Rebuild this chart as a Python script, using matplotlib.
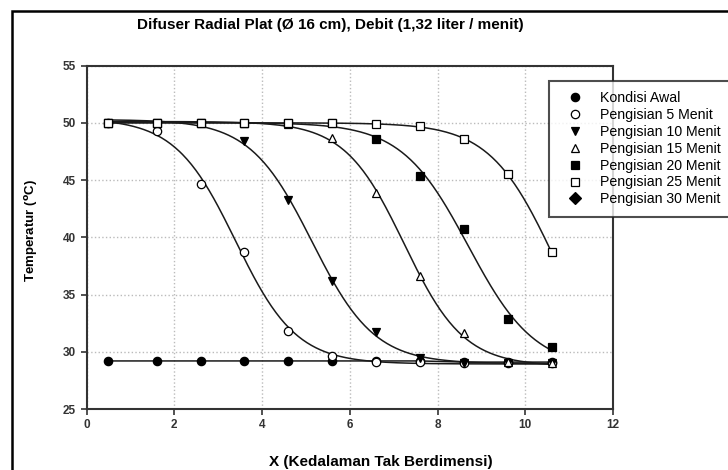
import numpy as np
import matplotlib.pyplot as plt
from matplotlib.patches import Rectangle

plt.rcParams['font.family'] = ['Liberation Sans', 'DejaVu Sans']

x = [0.5, 1.6, 2.6, 3.6, 4.6, 5.6, 6.6, 7.6, 8.6, 9.6, 10.6]

awal = [29.2, 29.2, 29.2, 29.2, 29.2, 29.2, 29.2, 29.2, 29.1, 29.1, 29.1]
menit_5 = [50.0, 49.3, 44.7, 38.7, 31.8, 29.6, 29.1, 29.1, 29.0, 29.0, 29.0]
menit_10 = [50.0, 50.0, 50.0, 48.4, 43.3, 36.2, 31.7, 29.5, 29.0, 29.0, 29.0]
menit_15 = [50.0, 50.0, 50.0, 50.0, 49.9, 48.7, 43.9, 36.6, 31.6, 29.1, 29.0]
menit_20 = [50.0, 50.0, 50.0, 50.0, 50.0, 50.0, 48.6, 45.4, 40.7, 32.9, 30.4]
menit_25 = [50.0, 50.0, 50.0, 50.0, 50.0, 50.0, 49.9, 49.7, 48.6, 45.5, 38.7]
menit_30 = []

labels = ['Kondisi Awal', 'Pengisian 5 Menit', 'Pengisian 10 Menit',
          'Pengisian 15 Menit', 'Pengisian 20 Menit', 'Pengisian 25 Menit',
          'Pengisian 30 Menit']


def sigmoid_fit(xp, yp, xs):
    # least squares sigmoid (trend line), grid over centre/width,
    # top and bottom solved linearly
    xp = np.asarray(xp, float)
    yp = np.asarray(yp, float)
    x0 = np.arange(0.0, 14.0, 0.01)
    w = np.arange(0.15, 2.5, 0.01)
    X0, W = np.meshgrid(x0, w)
    X0 = X0.ravel()[:, None]
    W = W.ravel()[:, None]
    f = 1.0 / (1.0 + np.exp((xp[None, :] - X0) / W))
    n = len(xp)
    sf = f.sum(1)
    sff = (f * f).sum(1)
    sy = yp.sum()
    sfy = (f * yp[None, :]).sum(1)
    det = n * sff - sf * sf
    det[np.abs(det) < 1e-9] = 1e-9
    a = (sff * sy - sf * sfy) / det
    b = (n * sfy - sf * sy) / det
    res = ((a[:, None] + b[:, None] * f - yp[None, :]) ** 2).sum(1)
    i = np.argmin(res)
    return a[i] + b[i] / (1.0 + np.exp((xs - X0[i, 0]) / W[i, 0]))


fig = plt.figure(figsize=(7.28, 4.70), dpi=100)
ax = fig.add_axes([86.5 / 728, 1 - 409 / 470, (613 - 86.5) / 728, (409 - 65.7) / 470])

series = [awal, menit_5, menit_10, menit_15, menit_20, menit_25, menit_30]
markers = ['o', 'o', 'v', '^', 's', 's', 'D']
faces = ['black', 'white', 'black', 'white', 'black', 'white', 'black']

xs = np.linspace(x[0], x[-1], 300)
for vals, mk, fc, lab in zip(series, markers, faces, labels):
    if len(vals) > 1:
        if max(vals) - min(vals) < 1:
            ax.plot(x, vals, color='#1a1a1a', lw=1.1, zorder=2)
        else:
            ax.plot(xs, sigmoid_fit(x, vals, xs), color='#1a1a1a', lw=1.1, zorder=2)
    ax.plot(x[:len(vals)], vals, linestyle='none', marker=mk, ms=6, mfc=fc,
            mec='black', mew=0.9, zorder=3, label=lab)

ax.set_xlim(0, 12)
ax.set_ylim(25, 55)
ax.set_xticks(range(0, 13, 2))
ax.set_yticks(range(25, 56, 5))
ax.grid(True, linestyle=':', color='#bbbbbb', lw=1.0)
ax.set_axisbelow(True)
for s in ax.spines.values():
    s.set_linewidth(1.5)
    s.set_color('#333333')
ax.tick_params(direction='out', length=4, width=1.2, color='#333333',
               labelsize=8.5, labelcolor='#333333')
for t in ax.get_xticklabels() + ax.get_yticklabels():
    t.set_fontweight('bold')

leg = fig.legend(loc='upper left', bbox_to_anchor=(549 / 728, 1 - 80.7 / 470),
                 fontsize=10.2, frameon=True, fancybox=False, borderaxespad=0,
                 handlelength=2.2, handletextpad=0.66, borderpad=0.75,
                 labelspacing=0.2)
leg.get_frame().set_edgecolor('#222222')
leg.get_frame().set_linewidth(1.5)

fig.text(330 / 728, 1 - 25 / 470, 'Difuser Radial Plat (\u00d8 16 cm), Debit (1,32 liter / menit)',
         ha='center', va='center', fontsize=11, fontweight='bold')
fig.text(381 / 728, 1 - 461.7 / 470, 'X (Kedalaman Tak Berdimensi)',
         ha='center', va='center', fontsize=11, fontweight='bold')
fig.text(32 / 728, 1 - 230 / 470, 'Temperatur ($\\mathbf{^o}$C)', rotation=90,
         ha='center', va='center', fontsize=9.5, fontweight='bold')

fig.patches.append(Rectangle((12 / 728, -0.1), 1.2, 1 - 11 / 470 + 0.1,
                             transform=fig.transFigure, fill=False,
                             edgecolor='black', lw=1.8))

fig.savefig('out.png', dpi=100)
